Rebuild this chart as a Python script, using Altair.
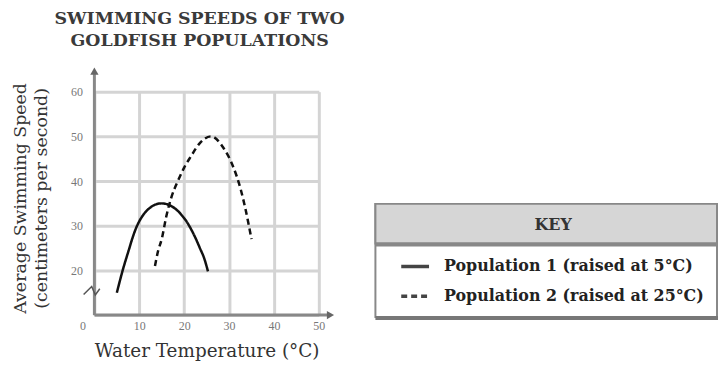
import altair as alt
import pandas as pd

SERIF = "DejaVu Serif"
TICKFONT = "Liberation Serif"
SANS = "Liberation Sans"

# ---- data ----
pop1_temp = [5, 6.3, 7.8, 8.5, 9.3, 10, 10.8, 11.6, 12.5, 13.5, 15, 16.2, 17.3, 18.5,
             19.5, 20.5, 21.5, 22.5, 23.5, 24.5, 25.3]
pop1_speed = [15, 20, 25, 27.3, 29.5, 31, 32.3, 33.3, 34.1, 34.7, 35, 34.8, 34.3, 33.4,
              32.3, 31, 29.3, 27.3, 25, 22.6, 19.8]
pop2_temp = [13.5, 14.2, 15, 16, 17.2, 18.6, 20, 21.5, 23.5, 26, 28.7, 31, 32.5, 33.6, 35]
pop2_speed = [21, 24.4, 27, 32, 36.5, 40, 43, 45.5, 48.5, 50, 47.5, 43, 38.5, 34, 27]
series_names = ["Population 1 (raised at 5°C)", "Population 2 (raised at 25°C)"]
x_grid = [0, 5, 10, 15, 20, 25, 30, 35, 40, 45, 50]
y_grid = [10, 15, 20, 25, 30, 35, 40, 45, 50, 55, 60]
title_lines = ["SWIMMING SPEEDS OF TWO", "GOLDFISH POPULATIONS"]
top_sentence = "ment are shown in the graph below."
y_title = ["Average Swimming Speed", "(centimeters per second)"]
x_title = "Water Temperature (°C)"

rows = []
for i, (t, s) in enumerate(zip(pop1_temp, pop1_speed)):
    rows.append({"population": series_names[0], "temp": t, "speed": s, "order": i})
for i, (t, s) in enumerate(zip(pop2_temp, pop2_speed)):
    rows.append({"population": series_names[1], "temp": t, "speed": s, "order": i})
lines_df = pd.DataFrame(rows)

x_scale = alt.Scale(domain=[0, 50], nice=False, zero=False)
y_scale = alt.Scale(domain=[10, 60], nice=False, zero=False)

x_axis = alt.Axis(
    values=x_grid,
    labelExpr="datum.value % 10 == 0 ? datum.label : ''",
    grid=True, gridColor="#d4d4d4",
    gridWidth={"condition": {"test": "datum.value % 10 == 0", "value": 3}, "value": 2},
    domain=False, ticks=False, labelFlush=False, labelOverlap=False,
    labelFont=TICKFONT, labelFontSize=12, labelColor="#777", labelPadding=6,
    labelOffset={"condition": {"test": "datum.value === 0", "value": -12}, "value": 0},
    title=x_title, titleFont=SERIF, titleFontSize=18.5, titleFontWeight="normal",
    titleColor="#333", titlePadding=10,
)
y_axis = alt.Axis(
    values=y_grid,
    labelExpr="datum.value >= 20 && datum.value % 10 == 0 ? datum.label : ''",
    grid=True, gridColor="#d4d4d4",
    gridWidth={"condition": {"test": "datum.value % 10 == 0", "value": 3}, "value": 2},
    domain=False, ticks=False, labelFlush=False, labelOverlap=False,
    labelFont=TICKFONT, labelFontSize=12, labelColor="#777", labelPadding=12,
    title=y_title, titleFont=SERIF, titleFontSize=17.5, titleFontWeight="normal",
    titleColor="#333", titleAngle=-90, titleAlign="center", titleBaseline="top",
    titleX=-83, titleY=107, titleLineHeight=21,
)

lines = alt.Chart(lines_df).mark_line(color="#111", strokeWidth=2.5, interpolate="monotone").encode(
    x=alt.X("temp:Q", scale=x_scale, axis=x_axis),
    y=alt.Y("speed:Q", scale=y_scale, axis=y_axis),
    order="order:Q",
    strokeDash=alt.StrokeDash(
        "population:N",
        scale=alt.Scale(domain=series_names, range=[[1, 0], [6, 4]]),
        legend=alt.Legend(
            title=None, orient="none", legendX=307, legendY=160,
            symbolType="stroke", symbolSize=784, symbolStrokeWidth=3.5,
            symbolStrokeColor="#444", labelFont=SERIF, labelFontSize=16,
            labelFontWeight="bold", labelColor="#222", labelOffset=13,
            rowPadding=6, padding=0, labelLimit=400,
        ),
    ),
)

# axis lines with arrows (in data coordinates)
yaxis_df = pd.DataFrame({"temp": [0], "speed": [10], "speed2": [64.5]})
xaxis_df = pd.DataFrame({"temp": [0], "temp2": [52.5], "speed": [10]})
yrule = alt.Chart(yaxis_df).mark_rule(color="#888", strokeWidth=3).encode(
    x=alt.X("temp:Q", scale=x_scale), y=alt.Y("speed:Q", scale=y_scale), y2="speed2:Q")
xrule = alt.Chart(xaxis_df).mark_rule(color="#888", strokeWidth=3).encode(
    x=alt.X("temp:Q", scale=x_scale), x2="temp2:Q", y=alt.Y("speed:Q", scale=y_scale))

arrow_up = alt.Chart(pd.DataFrame({"temp": [0], "speed": [64.6]})).mark_point(
    shape="triangle-up", filled=True, color="#666", size=70, opacity=1).encode(
    x=alt.X("temp:Q", scale=x_scale), y=alt.Y("speed:Q", scale=y_scale))
arrow_right = alt.Chart(pd.DataFrame({"temp": [52.6], "speed": [10]})).mark_point(
    shape="triangle-right", filled=True, color="#666", size=70, opacity=1).encode(
    x=alt.X("temp:Q", scale=x_scale), y=alt.Y("speed:Q", scale=y_scale))

# axis break zigzag
zig_df = pd.DataFrame({"temp": [-2.4, -0.6, 0.2, 1.2], "speed": [14.6, 16.4, 14.5, 15.9], "order": [0, 1, 2, 3]})
zig = alt.Chart(zig_df).mark_line(color="#555", strokeWidth=1.5).encode(
    x=alt.X("temp:Q", scale=x_scale), y=alt.Y("speed:Q", scale=y_scale), order="order:Q")

# key box
one = pd.DataFrame({"k": [0]})
key_box = alt.Chart(one).mark_rect(fill="white", stroke="#888", strokeWidth=2).encode(
    x=alt.value(283), x2=alt.value(627), y=alt.value(113), y2=alt.value(227))
key_head = alt.Chart(one).mark_rect(fill="#d6d6d6", stroke="#888", strokeWidth=2).encode(
    x=alt.value(283), x2=alt.value(627), y=alt.value(113), y2=alt.value(153))
key_line = alt.Chart(one).mark_rule(color="#888", strokeWidth=4).encode(
    x=alt.value(283), x2=alt.value(627), y=alt.value(154))
key_shadow = alt.Chart(one).mark_rule(color="#777", strokeWidth=4).encode(
    x=alt.value(283), x2=alt.value(628), y=alt.value(228))
key_text = alt.Chart(one).mark_text(font=SERIF, fontSize=16, fontWeight="bold", color="#333").encode(
    x=alt.value(462), y=alt.value(134), text=alt.value("KEY"))

chart = alt.layer(
    lines, yrule, xrule, arrow_up, arrow_right, zig,
    key_box, key_head, key_line, key_shadow, key_text,
).properties(
    width=226, height=225,
    autosize=alt.AutoSizeParams(type="none"),
    padding={"left": 87, "top": 83, "right": 403, "bottom": 47},
    title=alt.TitleParams(
        text=top_sentence, subtitle=title_lines, frame="group", anchor="middle",
        font=SANS, fontSize=20, fontWeight="normal", color="#000",
        subtitleFont=SERIF, subtitleFontSize=17.5, subtitleFontWeight="bold",
        subtitleColor="#3a3a3a", subtitleLineHeight=22, subtitlePadding=4,
        offset=18, dx=-7,
    ),
).configure_view(stroke=None)

chart.save("out.html", embed_options={"renderer": "svg", "actions": False})
